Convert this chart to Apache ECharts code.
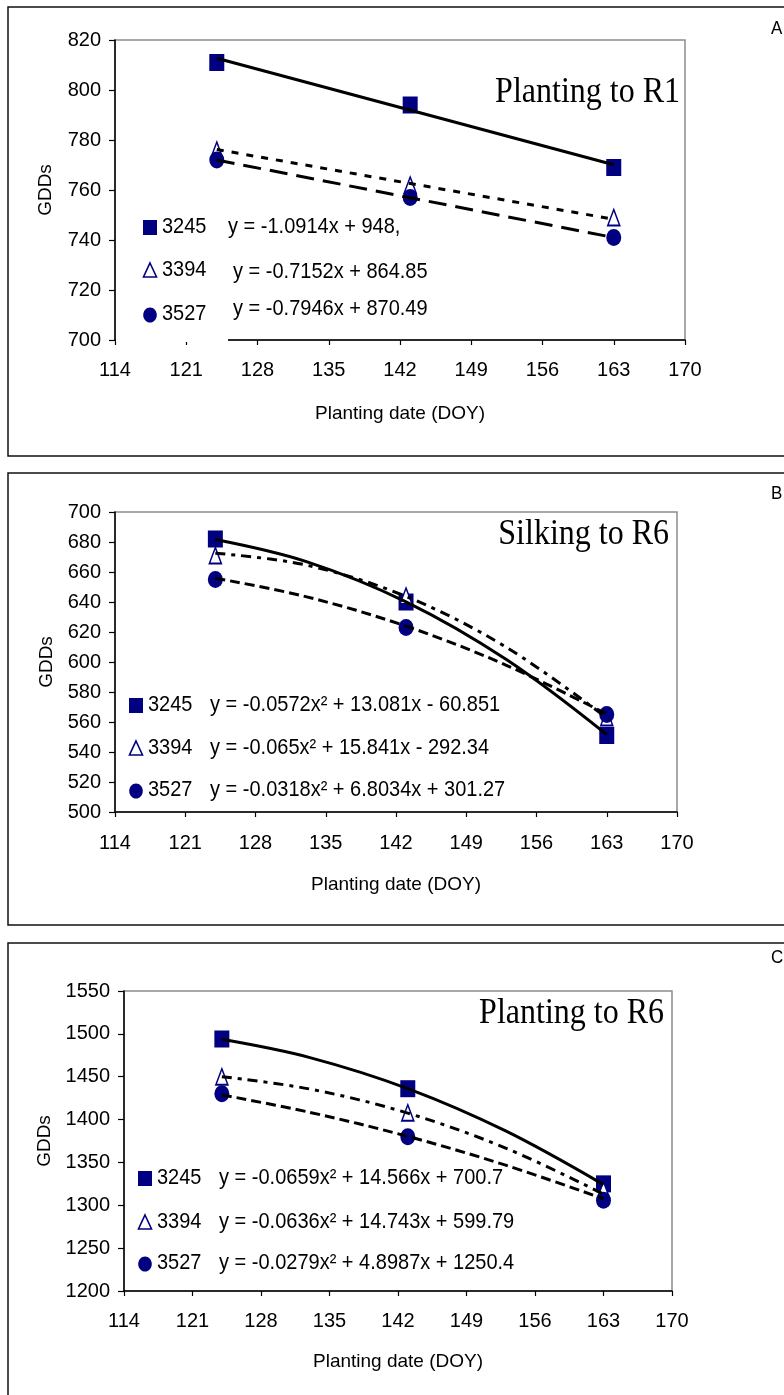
<!DOCTYPE html>
<html>
<head>
<meta charset="utf-8">
<script src="https://cdn.jsdelivr.net/npm/echarts@6/dist/echarts.min.js"></script>
<style>
html,body{margin:0;padding:0;background:#fff;}
#chart{width:784px;height:1395px;}
</style>
</head>
<body>
<div id="chart"></div>
<script>
// ---------- data ----------
const doy = [124, 143, 163];                 // planting dates (DOY)
const xTicks = [114, 121, 128, 135, 142, 149, 156, 163, 170];
const hybrids = ['3245', '3394', '3527'];

// Panel A: Planting to R1
const aTitle = 'Planting to R1';
const a3245 = [811, 794, 769];
const a3394 = [776, 762, 749];
const a3527 = [772, 757, 741];
const aTrendX = [124, 163];
const aTrend3245 = [812.7, 770.1];
const aTrend3394 = [776.2, 748.3];
const aTrend3527 = [772.0, 741.0];
const aEq = ['y = -1.0914x + 948,', 'y = -0.7152x + 864.85', 'y = -0.7946x + 870.49'];
const aYTicks = [700, 820, 20];

// Panel B: Silking to R6
const bTitle = 'Silking to R6';
const b3245 = [682, 640, 551];
const b3394 = [671, 644, 563];
const b3527 = [655, 623, 565];
const bTrendX = [124, 133, 143, 153, 163];
const bTrend3245 = [681.7, 667.1, 640.1, 601.6, 551.6];
const bTrend3394 = [672.5, 664.7, 643.7, 609.8, 562.8];
const bTrend3527 = [655.9, 643.6, 623.9, 597.8, 565.3];
const bEq = ['y = -0.0572x² + 13.081x - 60.851', 'y = -0.065x² + 15.841x - 292.34', 'y = -0.0318x² + 6.8034x + 301.27'];
const bYTicks = [500, 700, 20];

// Panel C: Planting to R6
const cTitle = 'Planting to R6';
const c3245 = [1494, 1436, 1325];
const c3394 = [1450, 1408, 1318];
const c3527 = [1430, 1380, 1306];
const cTrendX = [124, 133, 143, 153, 163];
const cTrend3245 = [1493.6, 1472.3, 1436.1, 1386.7, 1324.1];
const cTrend3394 = [1450.0, 1435.6, 1407.5, 1366.7, 1313.1];
const cTrend3527 = [1428.8, 1408.4, 1380.4, 1346.8, 1307.6];
const cEq = ['y = -0.0659x² + 14.566x + 700.7', 'y = -0.0636x² + 14.743x + 599.79', 'y = -0.0279x² + 4.8987x + 1250.4'];
const cYTicks = [1200, 1550, 50];

// ---------- layout / style ----------
const NAVY = '#000080';
const SANS = 'Liberation Sans, Arial, sans-serif';
const SERIF = 'Liberation Serif, Times New Roman, serif';

const panels = [
  { letter: 'A', title: aTitle, obs: [a3245, a3394, a3527], tx: aTrendX, tr: [aTrend3245, aTrend3394, aTrend3527], eq: aEq, yt: aYTicks,
    grid: { left: 115, top: 40, width: 570, height: 300 }, frame: [8, 7, 449], letterY: 29,
    titleXY: [680, 92], yGap: 60, xGap: 64, xMargin: 20,
    leg: { mx: 150, nx: 162, ex: [228, 233, 233], ny: [227, 270, 314], ey: [227, 272, 309] },
    dash: [[18, 9], [7, 8]], smooth: false },
  { letter: 'B', title: bTitle, obs: [b3245, b3394, b3527], tx: bTrendX, tr: [bTrend3245, bTrend3394, bTrend3527], eq: bEq, yt: bYTicks,
    grid: { left: 115, top: 512, width: 562, height: 300 }, frame: [8, 473, 452], letterY: 494,
    titleXY: [669, 534], yGap: 59, xGap: 63, xMargin: 21,
    leg: { mx: 136, nx: 148, ex: [210, 210, 210], ny: [705, 748, 790], ey: [705, 748, 790] },
    dash: [[10, 5], [10, 6, 4, 6]], smooth: true },
  { letter: 'C', title: cTitle, obs: [c3245, c3394, c3527], tx: cTrendX, tr: [cTrend3245, cTrend3394, cTrend3527], eq: cEq, yt: cYTicks,
    grid: { left: 124, top: 991, width: 548, height: 300 }, frame: [8, 943, 460], letterY: 958,
    titleXY: [664, 1013], yGap: 68, xGap: 61, xMargin: 20,
    leg: { mx: 145, nx: 157, ex: [219, 219, 219], ny: [1178, 1222, 1263], ey: [1178, 1222, 1263] },
    dash: [[10, 5], [10, 6, 4, 6]], smooth: true }
];

const grids = [], xAxes = [], yAxes = [], series = [], graphics = [];

panels.forEach((p, i) => {
  grids.push(Object.assign({ show: true, borderColor: '#8c8c8c', borderWidth: 1.5, backgroundColor: 'transparent' }, p.grid));
  xAxes.push({
    type: 'value', gridIndex: i, min: xTicks[0], max: xTicks[xTicks.length - 1], interval: 7,
    name: 'Planting date (DOY)', nameLocation: 'middle', nameGap: p.xGap,
    nameTextStyle: { fontFamily: SANS, fontSize: 19, color: '#000' },
    axisLine: { show: true, onZero: false, lineStyle: { color: '#000', width: 1.5 } },
    axisTick: { show: true, inside: false, length: 5, customValues: xTicks, lineStyle: { color: '#000', width: 1.2 } },
    axisLabel: { customValues: xTicks, margin: p.xMargin, fontFamily: SANS, fontSize: 20, color: '#000' },
    splitLine: { show: false }
  });
  yAxes.push({
    type: 'value', gridIndex: i, min: p.yt[0], max: p.yt[1], interval: p.yt[2],
    name: 'GDDs', nameLocation: 'middle', nameGap: p.yGap, nameRotate: 90,
    nameTextStyle: { fontFamily: SANS, fontSize: 19, color: '#000' },
    axisLine: { show: true, onZero: false, lineStyle: { color: '#000', width: 1.5 } },
    axisTick: { show: true, inside: false, length: 6, lineStyle: { color: '#000', width: 1.2 } },
    axisLabel: { margin: 14, fontFamily: SANS, fontSize: 20, color: '#000', formatter: v => String(v) },
    splitLine: { show: false }
  });
  const symbols = ['rect', 'triangle', 'circle'];
  const sizes = [[15, 17], [12, 16], [15, 17]];
  hybrids.forEach((h, k) => {
    series.push({
      name: h, type: 'scatter', xAxisIndex: i, yAxisIndex: i, z: 2 + k * 0.01,
      symbol: symbols[k], symbolSize: sizes[k],
      itemStyle: k === 1 ? { color: '#fff', borderColor: NAVY, borderWidth: 1.6, opacity: 1 } : { color: NAVY, opacity: 1 },
      data: doy.map((d, j) => [d, p.obs[k][j]]),
      silent: true
    });
  });
  const lineTypes = ['solid', p.dash[1], p.dash[0]];
  hybrids.forEach((h, k) => {
    series.push({
      name: h + ' trend', type: 'line', xAxisIndex: i, yAxisIndex: i, z: 5,
      showSymbol: false, symbol: 'none', smooth: p.smooth ? 0.35 : false,
      lineStyle: { color: '#000', width: 3, type: lineTypes[k], cap: 'butt' },
      data: p.tx.map((d, j) => [d, p.tr[k][j]]),
      silent: true
    });
  });

  // outer frame
  graphics.push({ type: 'rect', z: 50, shape: { x: p.frame[0], y: p.frame[1], width: 800, height: p.frame[2] },
    style: { fill: 'none', stroke: '#111', lineWidth: 1.5 } });
  // panel letter
  graphics.push({ type: 'text', z: 50, x: 771, y: p.letterY, scaleY: 1.12,
    style: { text: p.letter, font: '17px ' + SANS, fill: '#000', verticalAlign: 'middle', align: 'left' } });
  // title
  graphics.push({ type: 'text', z: 50, x: p.titleXY[0], y: p.titleXY[1], scaleY: 1.15,
    style: { text: p.title, font: '32px ' + SERIF, fill: '#000', align: 'right', verticalAlign: 'middle' } });
  // legend rows
  const L = p.leg;
  graphics.push({ type: 'rect', z: 50, shape: { x: L.mx - 7, y: L.ny[0] - 7, width: 14, height: 15 }, style: { fill: NAVY } });
  graphics.push({ type: 'polygon', z: 50, shape: { points: [[L.mx, L.ny[1] - 7], [L.mx + 6.5, L.ny[1] + 7], [L.mx - 6.5, L.ny[1] + 7]] },
    style: { fill: '#fff', stroke: NAVY, lineWidth: 1.6 } });
  graphics.push({ type: 'ellipse', z: 50, shape: { cx: L.mx, cy: L.ny[2] + 1, rx: 6.8, ry: 7.6 }, style: { fill: NAVY } });
  hybrids.forEach((h, k) => {
    graphics.push({ type: 'text', z: 50, x: L.nx, y: L.ny[k], scaleY: 1.13,
      style: { text: h, font: '20px ' + SANS, fill: '#000', verticalAlign: 'middle', align: 'left' } });
    graphics.push({ type: 'text', z: 50, x: L.ex[k], y: L.ey[k], scaleY: 1.13,
      style: { text: p.eq[k], font: '20px ' + SANS, fill: '#000', verticalAlign: 'middle', align: 'left' } });
  });
});

// white legend box edge covering part of panel A's x-axis line (as in the original)
graphics.push({ type: 'rect', z: 40, shape: { x: 116, y: 338.5, width: 112, height: 3.5 }, style: { fill: '#fff' } });

const chart = echarts.init(document.getElementById('chart'), null, { renderer: 'canvas' });
chart.setOption({
  animation: false,
  backgroundColor: '#fff',
  grid: grids,
  xAxis: xAxes,
  yAxis: yAxes,
  series: series,
  graphic: { elements: graphics }
});
</script>
</body>
</html>
